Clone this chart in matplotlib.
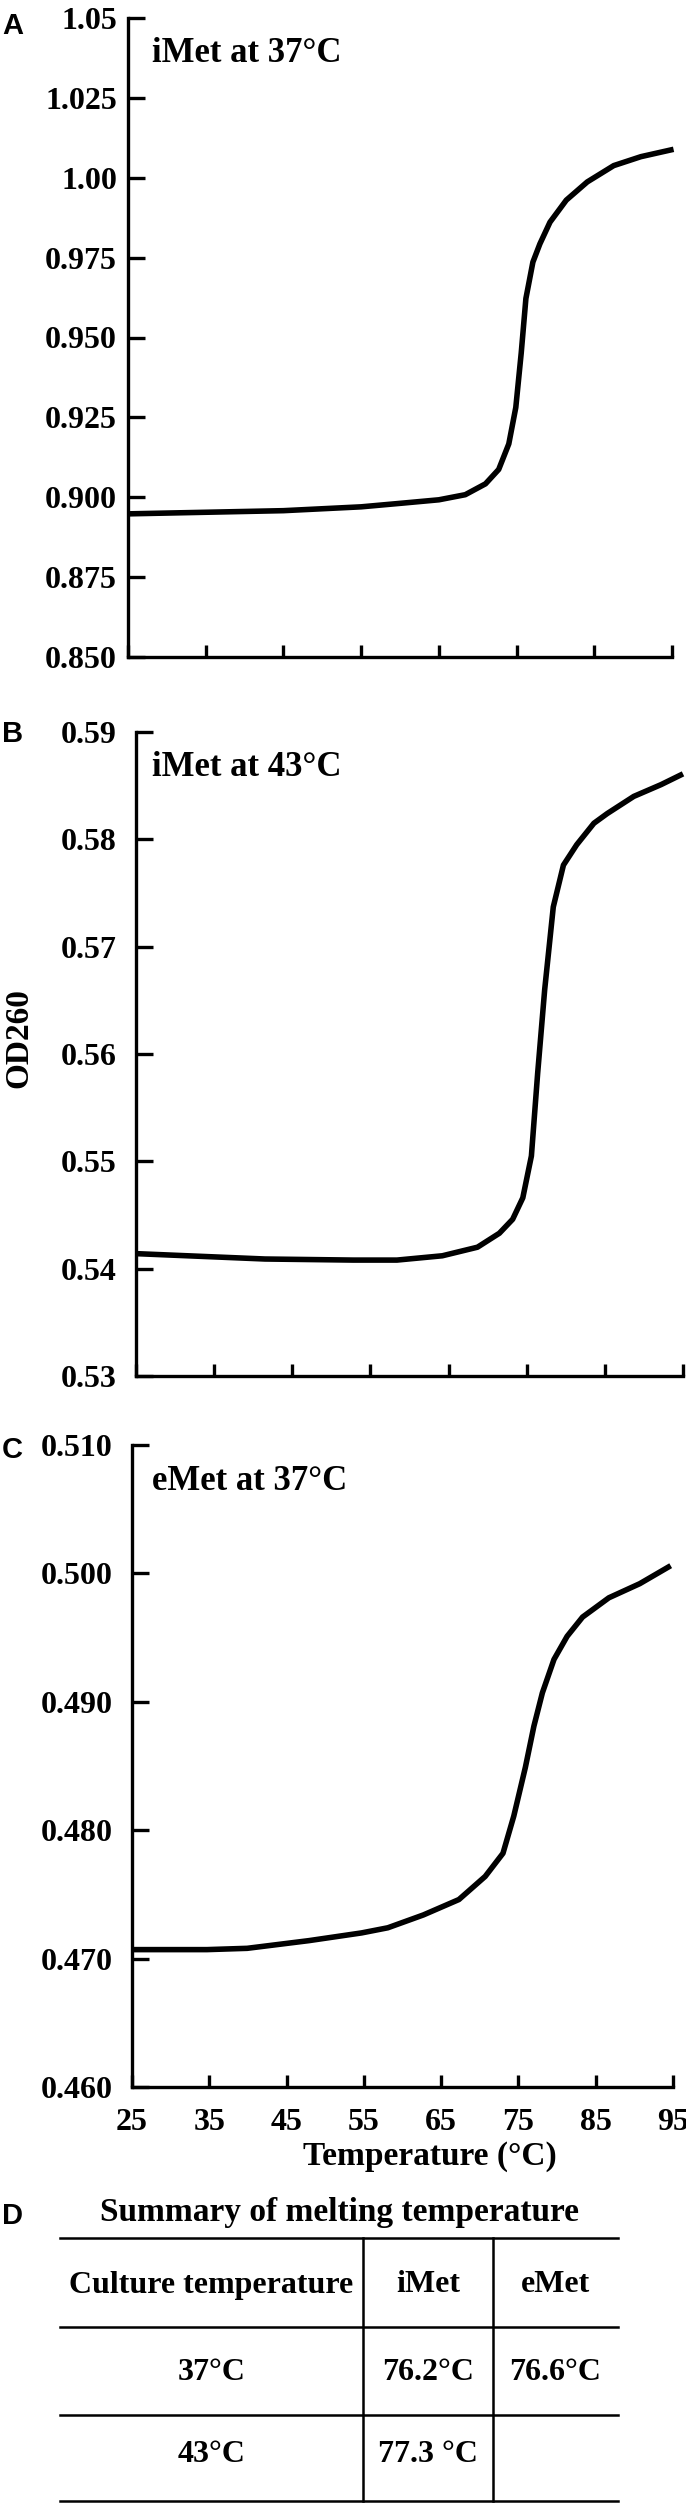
import matplotlib
matplotlib.use('Agg')
import matplotlib.pyplot as plt
from matplotlib.lines import Line2D

# ---------------- data ----------------
temp_ticks = [25, 35, 45, 55, 65, 75, 85, 95]

A_T = [25, 35, 45, 55, 60.5, 65, 68.4, 71.0, 72.7, 74.0, 74.9, 75.6, 76.2, 77.1, 78.0, 79.3, 81.4, 84.1,
       87.5, 91.0, 95.2]
A_OD = [0.8948, 0.8953, 0.8958, 0.8970, 0.8982, 0.8992, 0.9008, 0.9042, 0.9087, 0.9167, 0.9281, 0.9452,
        0.9622, 0.9736, 0.9793, 0.9861, 0.9930, 0.9987, 1.0038, 1.0066, 1.0089]
A_ticks = [0.850, 0.875, 0.900, 0.925, 0.950, 0.975, 1.00, 1.025, 1.05]
A_labels = ['0.850', '0.875', '0.900', '0.925', '0.950', '0.975', '1.00', '1.025', '1.05']

B_T = [25, 41.5, 52.8, 58.4, 64.2, 68.7, 71.5, 73.2, 74.5, 75.6, 76.4, 77.3, 78.4, 79.7, 81.4, 83.6, 85.3,
       88.7, 92.2, 95]
B_OD = [0.5414, 0.5409, 0.5408, 0.5408, 0.5412, 0.5420, 0.5433, 0.5446, 0.5466, 0.5505, 0.5582, 0.5660,
        0.5737, 0.5776, 0.5795, 0.5815, 0.5824, 0.5840, 0.5851, 0.5861]
B_ticks = [0.53, 0.54, 0.55, 0.56, 0.57, 0.58, 0.59]
B_labels = ['0.53', '0.54', '0.55', '0.56', '0.57', '0.58', '0.59']

C_T = [25, 34.7, 39.9, 47.9, 54.7, 58.1, 62.7, 67.3, 70.7, 73.0, 74.4, 75.9, 77.0, 78.1, 79.6, 81.3, 83.3,
       86.7, 90.7, 94.7]
C_OD = [0.4707, 0.4707, 0.4708, 0.4714, 0.4720, 0.4724, 0.4734, 0.4746, 0.4764, 0.4782, 0.4811, 0.4849,
        0.4881, 0.4907, 0.4933, 0.4951, 0.4966, 0.4981, 0.4992, 0.5006]
C_ticks = [0.460, 0.470, 0.480, 0.490, 0.500, 0.510]
C_labels = ['0.460', '0.470', '0.480', '0.490', '0.500', '0.510']

panel_letters = ['A', 'B', 'C']
panel_titles = ['iMet at 37°C', 'iMet at 43°C', 'eMet at 37°C']

table_title = 'Summary of melting temperature'
table_header = ['Culture temperature', 'iMet', 'eMet']
culture_temps = ['37°C', '43°C']
imet_tm = ['76.2°C', '77.3 °C']
emet_tm = ['76.6°C', '']

# ---------------- layout ----------------
W, H = 686, 2503
plt.rcParams['font.family'] = ['Liberation Serif', 'DejaVu Serif']
plt.rcParams['font.weight'] = 'bold'

fig = plt.figure(figsize=(W / 100, H / 100), dpi=100)


def fx(x):
    return x / W


def fy(y):
    return 1 - y / H


series = [(A_T, A_OD, A_ticks, A_labels), (B_T, B_OD, B_ticks, B_labels), (C_T, C_OD, C_ticks, C_labels)]
boxes = [(128, 18, 672, 657), (136, 732, 683, 1376), (132, 1445, 673, 2087)]
ypads = [8, 14, 14]
letter_y = [26, 734, 1450]
title_y = [53, 767, 1482]

LW = 2.4
for i, ((T, OD, ticks, labels), (l, t, r, b)) in enumerate(zip(series, boxes)):
    ax = fig.add_axes([fx(l), fy(b), (r - l) / W, (b - t) / H])
    ax.plot(T, OD, color='black', lw=4.0, solid_capstyle='butt', solid_joinstyle='round', clip_on=False)
    ax.set_xlim(25, 95)
    ax.set_ylim(ticks[0], ticks[-1])
    ax.set_yticks(ticks)
    ax.set_yticklabels(labels)
    ax.set_xticks(temp_ticks)
    if i == 2:
        ax.set_xticklabels([str(v) for v in temp_ticks])
    else:
        ax.set_xticklabels([])
    for s in ['top', 'right']:
        ax.spines[s].set_visible(False)
    for s in ['left', 'bottom']:
        ax.spines[s].set_linewidth(LW)
    ax.tick_params(axis='y', direction='in', length=12, width=LW, labelsize=23, pad=ypads[i])
    ax.tick_params(axis='x', direction='in', length=9, width=LW, labelsize=23, pad=15)
    for lab in ax.get_xticklabels() + ax.get_yticklabels():
        lab.set_fontweight('bold')
    fig.text(fx(2), fy(letter_y[i]), panel_letters[i], family=['Liberation Sans', 'DejaVu Sans'],
             fontweight='bold', fontsize=21, ha='left', va='center')
    fig.text(fx(152), fy(title_y[i]), panel_titles[i], fontsize=25, fontweight='bold',
             ha='left', va='center')

fig.text(fx(19), fy(1038), 'OD260', rotation=90, fontsize=24, fontweight='bold', ha='center', va='center')
fig.text(fx(430), fy(2156), 'Temperature (°C)', fontsize=24, fontweight='bold', ha='center', va='center')

# ---------------- table (panel D) ----------------
fig.text(fx(2), fy(2216), 'D', family=['Liberation Sans', 'DejaVu Sans'], fontweight='bold',
         fontsize=21, ha='left', va='center')
fig.text(fx(340), fy(2212), table_title, fontsize=24, fontweight='bold', ha='center', va='center')

tx0, tx1 = 60, 618
col_edges = [60, 363, 493, 618]
row_lines = [2238, 2327, 2415, 2501]
for yy in row_lines:
    fig.add_artist(Line2D([fx(tx0), fx(tx1)], [fy(yy), fy(yy)], color='black', lw=1.8,
                          transform=fig.transFigure))
for xx in col_edges[1:3]:
    fig.add_artist(Line2D([fx(xx), fx(xx)], [fy(row_lines[0]), fy(row_lines[-1])], color='black', lw=1.8,
                          transform=fig.transFigure))

col_centers = [(col_edges[k] + col_edges[k + 1]) / 2 for k in range(3)]
row_centers = [2285, 2372, 2455]
rows = [table_header] + [[c, a, e] for c, a, e in zip(culture_temps, imet_tm, emet_tm)]
for yy, row in zip(row_centers, rows):
    for xx, txt in zip(col_centers, row):
        if txt:
            fig.text(fx(xx), fy(yy), txt, fontsize=23, fontweight='bold', ha='center', va='center')

fig.savefig('out.png', dpi=100)
